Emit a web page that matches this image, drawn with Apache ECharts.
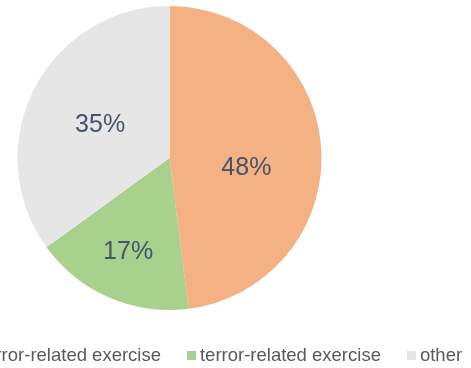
<!DOCTYPE html>
<html><head><meta charset="utf-8">
<script src="https://cdn.jsdelivr.net/npm/echarts@6/dist/echarts.min.js"></script>
<style>html,body{margin:0;padding:0;background:#fff}#c{width:471px;height:368px}</style>
</head><body><div id="c"></div>
<script>
const categories = ['non-terror-related exercise', 'terror-related exercise', 'other'];
const values = [48, 17, 35];
const colors = ['#F4B183', '#A9D18E', '#E7E6E6'];
const labelOffsets = [[-2, 15], [-10, 22], [1, 3]];

const chart = echarts.init(document.getElementById('c'), null, {renderer: 'canvas'});
chart.setOption({
  animation: false,
  legend: {
    top: 341, left: -75,
    itemWidth: 9, itemHeight: 9, itemGap: 26,
    icon: 'rect',
    textStyle: {fontFamily: 'Liberation Sans, Arial', fontSize: 18.5, color: '#595959', padding: [0, 0, 0, -1]},
    data: categories
  },
  series: [{
    type: 'pie',
    center: [169.5, 158],
    radius: 152,
    startAngle: 90,
    clockwise: true,
    label: {
      show: true, position: 'inside',
      formatter: p => p.value + '%',
      fontFamily: 'Liberation Sans, Arial', fontSize: 25, color: '#44546A'
    },
    labelLine: {show: false},
    emphasis: {disabled: true},
    data: categories.map((n, i) => ({
      name: n, value: values[i],
      itemStyle: {color: colors[i]},
      label: {offset: labelOffsets[i]}
    }))
  }]
});
</script></body></html>
